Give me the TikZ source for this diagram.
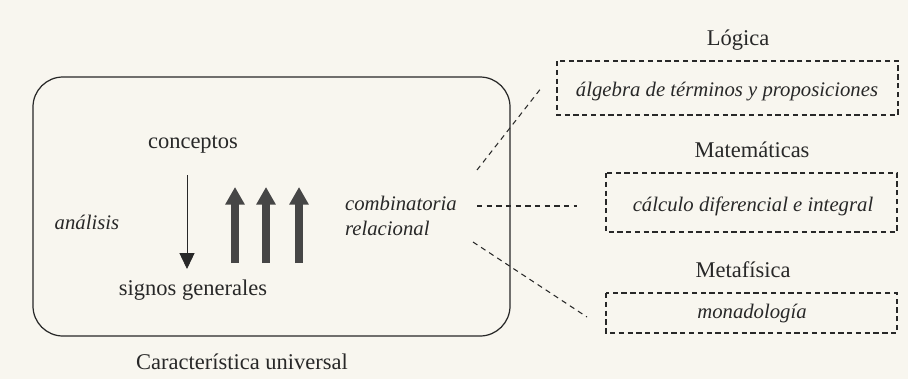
\documentclass[tikz,border=0pt]{standalone}
\usepackage{fontspec}
\setmainfont{Liberation Serif}
\usepackage{xcolor}
\usetikzlibrary{arrows.meta,positioning}
\definecolor{pgBack}{RGB}{248,246,239}
\definecolor{pgInk}{RGB}{40,40,40}
\definecolor{pgArrow}{RGB}{70,70,70}

\begin{document}
\begin{tikzpicture}[
  x=0.02cm, y=-0.02cm,
  font=\fontsize{12.8}{14}\selectfont, text=pgInk,
  lbl/.style={inner sep=1pt},
  itl/.style={inner sep=1pt, font=\fontsize{11.8}{13.5}\selectfont\itshape},
  dbox/.style={draw=pgInk, dash pattern=on 3pt off 2pt, line width=0.6pt},
  dline/.style={draw=pgInk, dash pattern=on 3pt off 2.5pt, line width=0.6pt},
  thin ar/.style={draw=pgInk, line width=0.5pt, -{Triangle[length=9pt, width=8.5pt]}},
  thick ar/.style={draw=pgArrow, line width=4pt, -{Triangle[length=10pt, width=10.5pt]}}
]
% page background
\fill[pgBack] (0,0) rectangle (908,379);
\useasboundingbox (0,0) rectangle (908,379);

% characteristica universalis
\draw[pgInk, line width=0.7pt, rounded corners=0.6cm] (33,77) rectangle (510,336);
\node[lbl] (conc) at (193,145) {conceptos};
\node[lbl] (sign) at (193,290) {signos generales};
\node[itl] (anal) at (87,222) {análisis};
\node[itl, anchor=west, align=left] (comb) at (343,216) {combinatoria\\[1pt]relacional};
\node[lbl] (cara) at (242,362) {Característica universal};

\coordinate (dnA) at (187,175);
\coordinate (dnB) at (187,269);
\draw[thin ar] (dnA) -- (dnB);
\foreach \x [count=\i] in {235,266,299} {
  \coordinate (upA\i) at (\x,263);
  \coordinate (upB\i) at (\x,187);
  \draw[thick ar] (upA\i) -- (upB\i);
}

% disciplinas
\node[lbl] (logi) at (738,40) {Lógica};
\draw[dbox] (557,61) rectangle (898,115);
\node[itl] (alge) at (727,92) {álgebra de términos y proposiciones};

\node[lbl] (mate) at (752,150) {Matemáticas};
\draw[dbox] (606,173) rectangle (897,232);
\node[itl] (calc) at (753,206) {cálculo diferencial e integral};

\node[lbl] (meta) at (743,270) {Metafísica};
\draw[dbox] (606,293) rectangle (897,333);
\node[itl] (mona) at (752,313) {monadología};

% enlaces
\coordinate (lkA1) at (477,170); \coordinate (lkB1) at (542,87);
\coordinate (lkA2) at (477,206); \coordinate (lkB2) at (577,206);
\coordinate (lkA3) at (473,242); \coordinate (lkB3) at (587,317);
\foreach \i in {1,2,3} \draw[dline] (lkA\i) -- (lkB\i);
\end{tikzpicture}
\end{document}
